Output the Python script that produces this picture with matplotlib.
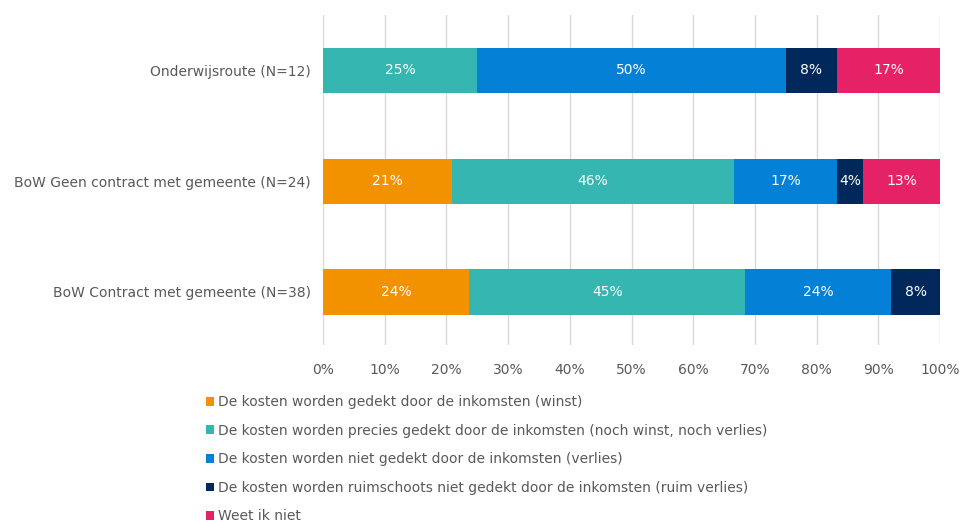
import numpy as np
import matplotlib.pyplot as plt
from matplotlib.patches import Patch

# Categories (top to bottom) and answer shares in percent
categories = ['Onderwijsroute (N=12)',
              'BoW Geen contract met gemeente (N=24)',
              'BoW Contract met gemeente (N=38)']
series_names = ['De kosten worden gedekt door de inkomsten (winst)',
                'De kosten worden precies gedekt door de inkomsten (noch winst, noch verlies)',
                'De kosten worden niet gedekt door de inkomsten (verlies)',
                'De kosten worden ruimschoots niet gedekt door de inkomsten (ruim verlies)',
                'Weet ik niet']
winst = [0, 20.83, 23.68]
precies = [25, 45.83, 44.74]
verlies = [50, 16.67, 23.68]
ruim_verlies = [8.33, 4.17, 7.89]
weet_niet = [16.67, 12.5, 0]
colors = ['#F39200', '#35B6B1', '#0481D7', '#00285A', '#E62267']

series = [winst, precies, verlies, ruim_verlies, weet_niet]

fig = plt.figure(figsize=(9.62, 5.22), dpi=100)
ax = fig.add_axes([0.3358, 0.339, 0.6413, 0.632])

y = np.arange(len(categories))
left = np.zeros(len(categories))
for vals, col in zip(series, colors):
    vals = np.array(vals)
    ax.barh(y, vals, left=left, height=0.41, color=col, zorder=3)
    for yi, (l, v) in enumerate(zip(left, vals)):
        if v > 0:
            # round half up, like the source chart (12.5 -> 13)
            ax.text(l + v / 2, yi, f'{int(v + 0.5)}%', ha='center', va='center',
                    color='white', fontsize=10, zorder=4)
    left += vals

ax.set_xlim(0, 100)
ax.set_ylim(2.48, -0.5)
ax.set_yticks(y)
ax.set_yticklabels(categories)
ax.set_xticks(np.arange(0, 101, 10))
ax.set_xticklabels([f'{t}%' for t in range(0, 101, 10)])
ax.tick_params(axis='both', length=0, labelsize=10, colors='#595959')
ax.tick_params(axis='x', pad=13)
ax.tick_params(axis='y', pad=9)
ax.grid(axis='x', color='#D9D9D9', linewidth=1, zorder=0)
for s in ax.spines.values():
    s.set_visible(False)

handles = [Patch(facecolor=c) for c in colors]
fig.legend(handles, series_names, loc='upper left', bbox_to_anchor=(0.214, 0.243),
           frameon=False, fontsize=10, labelcolor='#595959',
           handlelength=0.6, handleheight=0.6, handletextpad=0.3,
           labelspacing=1.05, borderpad=0, borderaxespad=0)

fig.savefig('out.png', dpi=100)
